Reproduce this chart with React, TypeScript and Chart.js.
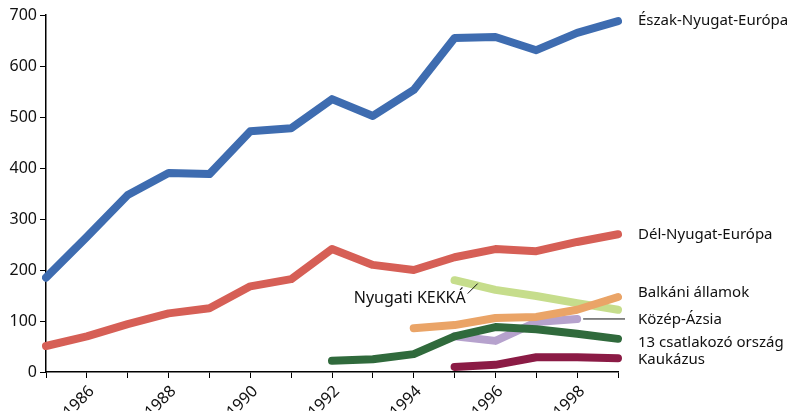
import React, { useEffect, useRef } from "react";
import { Chart, registerables } from "chart.js";

Chart.register(...registerables);

const years = ["1985","1986","1987","1988","1989","1990","1991","1992","1993","1994","1995","1996","1997","1998","1999"];
const yTicks = [0, 100, 200, 300, 400, 500, 600, 700];

const eszakNyugat = [185, 265, 347, 390, 388, 472, 478, 535, 502, 553, 655, 657, 631, 665, 688];
const delNyugat = [51, 70, 94, 115, 125, 168, 182, 241, 210, 200, 225, 241, 237, 255, 270];
const nyugatiKekka = [null, null, null, null, null, null, null, null, null, null, 180, 161, 149, 135, 122];
const balkani = [null, null, null, null, null, null, null, null, null, 86, 92, 106, 108, 122, 147];
const kozepAzsia = [null, null, null, null, null, null, null, null, null, null, 70, 61, 98, 104, null];
const csatlakozo = [null, null, null, null, null, null, null, 22, 25, 35, 70, 88, 84, 75, 65];
const kaukazus = [null, null, null, null, null, null, null, null, null, null, 10, 14, 29, 29, 27];

const seriesNames = ["Észak-Nyugat-Európa", "Dél-Nyugat-Európa", "Balkáni államok", "Közép-Ázsia", "13 csatlakozó ország", "Kaukázus"];
const seriesLabelValues = [688, 270, 155, 102, 57, 24];
const kekkaLabel = "Nyugati KEKKÁ";

const FONT = "'Noto Sans', sans-serif";

export default function App() {
  const ref = useRef<HTMLCanvasElement | null>(null);
  useEffect(() => {
    if (!ref.current) return;
    const labelsPlugin = {
      id: "sideLabels",
      afterDatasetsDraw(chart: any) {
        const { ctx, scales } = chart;
        const xs = scales.x;
        const ys = scales.y;
        ctx.save();
        ctx.fillStyle = "#111";
        ctx.font = `15px ${FONT}`;
        ctx.textBaseline = "middle";
        ctx.textAlign = "left";
        const lx = xs.right + 20;
        seriesNames.forEach((n, i) => {
          ctx.fillText(n, lx, ys.getPixelForValue(seriesLabelValues[i]));
        });
        // Nyugati KEKKÁ label
        const kx = xs.getPixelForValue(9) + 52;
        const ky = ys.getPixelForValue(144);
        ctx.textAlign = "right";
        ctx.font = `16px ${FONT}`;
        ctx.fillText(kekkaLabel, kx, ky);
        ctx.strokeStyle = "#111";
        ctx.lineWidth = 1;
        ctx.beginPath();
        ctx.moveTo(kx + 2, ky - 5);
        ctx.lineTo(kx + 12, ky - 15);
        ctx.stroke();
        // Közép-Ázsia leader
        const py = ys.getPixelForValue(104);
        ctx.beginPath();
        ctx.moveTo(xs.getPixelForValue(13) + 6, py);
        ctx.lineTo(lx - 13, py);
        ctx.stroke();
        ctx.restore();
      },
    };
    const mk = (data: (number | null)[], color: string) => ({
      data,
      borderColor: color,
      backgroundColor: color,
      borderWidth: 8,
      borderCapStyle: "round" as const,
      borderJoinStyle: "round" as const,
      pointRadius: 0,
      tension: 0,
      spanGaps: false,
    });
    const chart = new Chart(ref.current, {
      type: "line",
      data: {
        labels: years,
        datasets: [
          mk(eszakNyugat, "#3e6cb0"),
          mk(delNyugat, "#d65f56"),
          mk(kaukazus, "#8b1b45"),
          mk(csatlakozo, "#306a3c"),
          mk(balkani, "#eaa467"),
          mk(nyugatiKekka, "#c6dd8c"),
          mk(kozepAzsia, "#b6a2cd"),
        ],
      },
      options: {
        animation: false,
        responsive: true,
        maintainAspectRatio: false,
        layout: { padding: { top: 15, right: 182, left: 0, bottom: 0 } },
        plugins: { legend: { display: false }, tooltip: { enabled: false } },
        scales: {
          x: {
            type: "category",
            offset: false,
            grid: { drawOnChartArea: false, drawTicks: true, tickLength: 6, color: "#000" },
            border: { color: "#000", width: 1.5 },
            ticks: {
              autoSkip: false,
              maxRotation: 45,
              minRotation: 45,
              color: "#111",
              font: { family: FONT, size: 16 },
              padding: 4,
              labelOffset: 5,
              callback: (v: any, i: number) => (Number(years[i]) % 2 === 0 ? years[i] : ""),
            },
            afterFit: (s: any) => { s.height = 39; },
          },
          y: {
            min: 0,
            max: 700,
            grid: { drawOnChartArea: false, drawTicks: true, tickLength: 6, color: "#000" },
            border: { color: "#000", width: 1.5 },
            afterBuildTicks: (s: any) => { s.ticks = yTicks.map((v) => ({ value: v })); },
            ticks: {
              color: "#111",
              font: { family: FONT, size: 16 },
              padding: 3,
            },
            afterFit: (s: any) => { s.width = 46; },
          },
        },
      },
      plugins: [labelsPlugin],
    });
    return () => chart.destroy();
  }, []);
  return (
    <div style={{ position: "absolute", left: 0, top: 0, width: 800, height: 411, background: "#fff" }}>
      <canvas ref={ref} />
    </div>
  );
}
